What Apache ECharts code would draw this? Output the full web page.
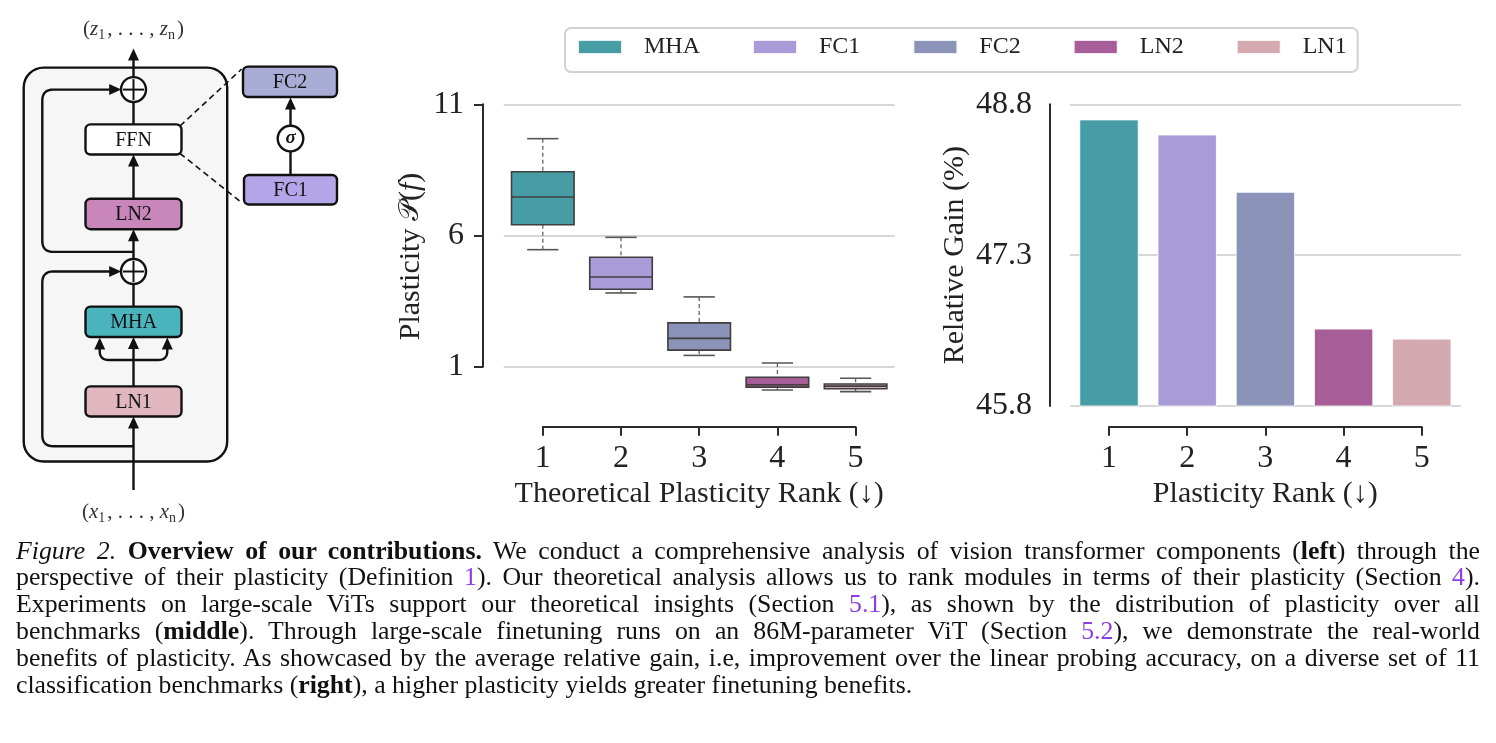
<!DOCTYPE html>
<html><head><meta charset="utf-8">
<script src="https://cdn.jsdelivr.net/npm/echarts@6/dist/echarts.min.js"></script>
<style>
html,body{margin:0;padding:0;background:#fff;}
#wrap{position:relative;width:1496px;height:743px;overflow:hidden;background:#fff;}
#chart{position:absolute;left:0;top:0;width:1496px;height:743px;}
#cap{position:absolute;left:16px;top:537.6px;width:1464px;font-family:'Liberation Serif','Times New Roman',serif;font-size:25.8px;line-height:26.8px;color:#111;}
#cap .ln{white-space:nowrap;}
#cap .lk{color:#8b3de6;}
</style></head><body>
<div id="wrap">
<div id="chart"></div>
<div id="cap">
<div class="ln"><span><i>Figure 2.</i> <b>Overview of our contributions.</b> We conduct a comprehensive analysis of vision transformer components (<b>left</b>) through the</span></div>
<div class="ln"><span>perspective of their plasticity (Definition <span class="lk">1</span>). Our theoretical analysis allows us to rank modules in terms of their plasticity (Section <span class="lk">4</span>).</span></div>
<div class="ln"><span>Experiments on large-scale ViTs support our theoretical insights (Section <span class="lk">5.1</span>), as shown by the distribution of plasticity over all</span></div>
<div class="ln"><span>benchmarks (<b>middle</b>). Through large-scale finetuning runs on an 86M-parameter ViT (Section <span class="lk">5.2</span>), we demonstrate the real-world</span></div>
<div class="ln"><span>benefits of plasticity. As showcased by the average relative gain, i.e, improvement over the linear probing accuracy, on a diverse set of 11</span></div>
<div class="ln last"><span>classification benchmarks (<b>right</b>), a higher plasticity yields greater finetuning benefits.</span></div>
</div>
</div>
<script>
// ---------------- data ----------------
const modules = ['MHA', 'FC1', 'FC2', 'LN2', 'LN1'];
const rankTicks = [1, 2, 3, 4, 5];
// plasticity distribution per module (box plot, theoretical rank order)
const plastLowWhisker  = [5.46, 3.81, 1.43, 0.11, 0.05];
const plastQ1          = [6.41, 3.95, 1.63, 0.22, 0.16];
const plastMedian      = [7.47, 4.42, 2.08, 0.31, 0.26];
const plastQ3          = [8.43, 5.17, 2.67, 0.60, 0.34];
const plastHighWhisker = [9.69, 5.93, 3.66, 1.14, 0.56];
const plastTicks = [1, 6, 11];
// average relative gain (%) per module
const relGain = [48.65, 48.50, 47.93, 46.57, 46.47];
const gainTicks = [45.8, 47.3, 48.8];

// ---------------- styles ----------------
const colors = ['#479da6', '#a89bd7', '#8c93b9', '#a65d98', '#d4a9b0'];
const SERIF = "'Liberation Serif','Times New Roman',serif";
const INK = '#222';
const SPINE = {show: true, onZero: false, lineStyle: {color: '#2b2b2b', width: 2}};
const TICK = {length: 9, lineStyle: {color: '#2b2b2b', width: 2}};
const GRIDLINE = {show: true, lineStyle: {color: '#d7d7d7', width: 2}};

// ---------------- diagram (left schematic) ----------------
const K = '#111', LW = 2.4;
const G = [];
function L(x1, y1, x2, y2, st, z) { G.push({type: 'line', silent: true, z: z || 10, shape: {x1, y1, x2, y2}, style: Object.assign({stroke: K, lineWidth: LW}, st || {})}); }
function up(x, y) { G.push({type: 'polygon', silent: true, z: 11, shape: {points: [[x, y], [x - 5.5, y + 12], [x + 5.5, y + 12]]}, style: {fill: K}}); }
function rightHead(x, y) { G.push({type: 'polygon', silent: true, z: 11, shape: {points: [[x, y], [x - 12, y - 5.5], [x - 12, y + 5.5]]}, style: {fill: K}}); }
function box(x, y, w, h, fill, label) {
  G.push({type: 'rect', silent: true, z: 12, shape: {x, y, width: w, height: h, r: 5}, style: {fill, stroke: K, lineWidth: LW}});
  G.push({type: 'text', silent: true, z: 13, x: x + w / 2, y: y + h / 2 + 1, style: {text: label, fontFamily: SERIF, fontSize: 20, fill: K, align: 'center', verticalAlign: 'middle'}});
}
function plus(cx, cy, r) {
  G.push({type: 'circle', silent: true, z: 12, shape: {cx, cy, r}, style: {fill: '#fff', stroke: K, lineWidth: LW}});
  L(cx - r + 2, cy, cx + r - 2, cy, {lineWidth: 2}, 13);
  L(cx, cy - r + 2, cx, cy + r - 2, {lineWidth: 2}, 13);
}
function rpath(pts, r) {
  const out = [pts[0]];
  for (let i = 1; i < pts.length - 1; i++) {
    const [px, py] = pts[i - 1], [cx, cy] = pts[i], [nx, ny] = pts[i + 1];
    const a = [cx + Math.sign(px - cx) * r, cy + Math.sign(py - cy) * r];
    const b = [cx + Math.sign(nx - cx) * r, cy + Math.sign(ny - cy) * r];
    for (let t = 0; t <= 1.0001; t += 0.125) {
      const u = 1 - t;
      out.push([u * u * a[0] + 2 * u * t * cx + t * t * b[0], u * u * a[1] + 2 * u * t * cy + t * t * b[1]]);
    }
  }
  out.push(pts[pts.length - 1]);
  G.push({type: 'polyline', silent: true, z: 10, shape: {points: out}, style: {stroke: K, lineWidth: LW, fill: 'none'}});
}
const MX = 133.5;
G.push({type: 'rect', silent: true, z: 1, shape: {x: 23.7, y: 67.6, width: 203.5, height: 393.9, r: 20}, style: {fill: '#f6f6f6', stroke: K, lineWidth: LW}});
// main stream
L(MX, 490, MX, 425); up(MX, 416.5);
L(MX, 386.4, MX, 346); up(MX, 337);
rpath([[MX, 360], [99.7, 360], [99.7, 347]], 9); up(99.7, 337.5);
rpath([[MX, 360], [167.3, 360], [167.3, 347]], 9); up(167.3, 337.5);
L(MX, 306.6, MX, 284);
L(MX, 259, MX, 238); up(MX, 229.2);
L(MX, 198.8, MX, 163); up(MX, 154.5);
L(MX, 124.4, MX, 102);
L(MX, 77, MX, 58); up(MX, 48.5);
// residual connections
rpath([[MX, 446.2], [42.3, 446.2], [42.3, 271.5], [112, 271.5]], 11); rightHead(121.2, 271.5);
rpath([[MX, 251.9], [42.3, 251.9], [42.3, 89.6], [112, 89.6]], 11); rightHead(121.2, 89.6);
// blocks
box(85.5, 386.4, 96, 30.1, '#e0b7bf', 'LN1');
box(85.5, 306.6, 96, 30.4, '#4ab4bd', 'MHA');
box(85.5, 198.8, 96, 30.4, '#c886bb', 'LN2');
box(85.5, 124.4, 96, 30.1, '#ffffff', 'FFN');
plus(MX, 271.5, 12.5);
plus(MX, 89.6, 12.5);
// FFN zoom
L(180, 126, 241.7, 69, {lineDash: [6, 4], lineWidth: 1.6});
L(180, 153.5, 241, 202, {lineDash: [6, 4], lineWidth: 1.6});
const FX = 290.5;
L(FX, 175, FX, 150);
L(FX, 126, FX, 106); up(FX, 97.5);
box(243, 66.6, 94, 30.4, '#a9add6', 'FC2');
box(244, 175, 93, 29.5, '#b4a5e8', 'FC1');
G.push({type: 'circle', silent: true, z: 12, shape: {cx: FX, cy: 138.6, r: 12.8}, style: {fill: '#fff', stroke: K, lineWidth: LW}});
G.push({type: 'text', silent: true, z: 13, x: FX, y: 138, style: {text: 'σ', fontFamily: SERIF, fontStyle: 'italic', fontWeight: 'bold', fontSize: 19, fill: K, align: 'center', verticalAlign: 'middle'}});
function seqText(v, y) {
  G.push({type: 'text', silent: true, z: 13, x: MX, y: y, style: {
    text: '{p|(}{v|' + v + '}{s|1}{p|, . . . , }{v|' + v + '}{s|n}{p|)}',
    align: 'center', verticalAlign: 'middle',
    rich: {
      p: {fontFamily: SERIF, fontSize: 21, fill: '#333', lineHeight: 26, verticalAlign: 'middle'},
      v: {fontFamily: SERIF, fontSize: 21, fontStyle: 'italic', fill: '#333', lineHeight: 26, verticalAlign: 'middle'},
      s: {fontFamily: SERIF, fontSize: 14, fill: '#333', lineHeight: 26, verticalAlign: 'bottom', padding: [0, 2, 0, 0]}
    }}});
}
seqText('z', 29);
seqText('x', 512);

// ---------------- charts ----------------
const boxData = modules.map((m, i) => [i, plastLowWhisker[i], plastQ1[i], plastMedian[i], plastQ3[i], plastHighWhisker[i]]);

function renderBox(params, api) {
  const i = api.value(0);
  const lo = api.coord([i, api.value(1)]);
  const q1 = api.coord([i, api.value(2)]);
  const md = api.coord([i, api.value(3)]);
  const q3 = api.coord([i, api.value(4)]);
  const hi = api.coord([i, api.value(5)]);
  const band = api.size([1, 0])[0];
  const bw = band * 0.8, cw = bw * 0.5, cx = md[0];
  const edge = '#3f3f3f';
  const wst = {stroke: '#666', lineWidth: 1.3, lineDash: [4, 3]};
  const cst = {stroke: '#555', lineWidth: 1.6};
  return {type: 'group', children: [
    {type: 'line', shape: {x1: cx, y1: hi[1], x2: cx, y2: q3[1]}, style: wst},
    {type: 'line', shape: {x1: cx, y1: q1[1], x2: cx, y2: lo[1]}, style: wst},
    {type: 'line', shape: {x1: cx - cw / 2, y1: hi[1], x2: cx + cw / 2, y2: hi[1]}, style: cst},
    {type: 'line', shape: {x1: cx - cw / 2, y1: lo[1], x2: cx + cw / 2, y2: lo[1]}, style: cst},
    {type: 'rect', shape: {x: cx - bw / 2, y: q3[1], width: bw, height: q1[1] - q3[1]}, style: {fill: colors[i], stroke: edge, lineWidth: 1.6}},
    {type: 'line', shape: {x1: cx - bw / 2, y1: md[1], x2: cx + bw / 2, y2: md[1]}, style: {stroke: edge, lineWidth: 1.6}}
  ]};
}

const PX = 26.24; // px per plasticity unit (layout)
const hiddenVal = {type: 'value', show: false, min: 0, max: 1};
const rankAxis = (gi) => ({
  type: 'value', gridIndex: gi, position: 'bottom',
  min: rankTicks[0], max: rankTicks[rankTicks.length - 1], interval: 1,
  axisLine: SPINE, axisTick: TICK, splitLine: {show: false},
  axisLabel: {fontFamily: SERIF, fontSize: 32, color: INK, margin: 16},
  nameLocation: 'middle', nameGap: 52,
  nameTextStyle: {fontFamily: SERIF, fontSize: 30, color: INK}
});

const option = {
  animation: false,
  backgroundColor: '#fff',
  textStyle: {fontFamily: SERIF},
  legend: {
    data: modules, left: 565, top: 28, icon: 'rect', itemWidth: 44, itemHeight: 14, itemGap: 52,
    padding: [7, 11, 13, 12], borderColor: '#d2d2d2', borderWidth: 2, borderRadius: 6,
    textStyle: {fontFamily: SERIF, fontSize: 24, color: INK, padding: [0, 0, 0, 17]}
  },
  grid: [
    {left: 503.7, top: 104.3, width: 391, height: 11.6 * PX},   // middle data
    {left: 503.7, top: 104.3, width: 391, height: 10 * PX},     // middle y spine
    {left: 542.8, top: 416.7, width: 312.7, height: 10},        // middle x spine
    {left: 1069.9, top: 104.3, width: 391, height: 301.7},      // right data
    {left: 1109, top: 416.7, width: 312.7, height: 10}          // right x spine
  ],
  xAxis: [
    {type: 'category', gridIndex: 0, data: modules, show: false},
    Object.assign({}, hiddenVal, {gridIndex: 1}),
    Object.assign(rankAxis(2), {name: 'Theoretical Plasticity Rank (↓)'}),
    {type: 'category', gridIndex: 3, data: modules, show: false},
    Object.assign(rankAxis(4), {name: 'Plasticity Rank (↓)'})
  ],
  yAxis: [
    {type: 'value', gridIndex: 0, min: -0.6, max: plastTicks[plastTicks.length - 1], offset: 20.7,
     axisLine: {show: false, onZero: false}, axisTick: {show: false}, axisLabel: {show: false}, splitLine: {show: false},
     name: '{a|Plasticity }{b|𝒫}{a|(}{c|f}{a|)}', nameLocation: 'middle', nameGap: 57,
     nameTextStyle: {fontFamily: SERIF, fontSize: 30, color: INK,
       rich: {a: {fontFamily: SERIF, fontSize: 30, color: INK},
              b: {fontFamily: "'DejaVu Serif','DejaVu Sans',serif", fontSize: 28, color: INK},
              c: {fontFamily: SERIF, fontSize: 30, fontStyle: 'italic', color: INK}}}},
    {type: 'value', gridIndex: 1, min: plastTicks[0], max: plastTicks[plastTicks.length - 1],
     interval: plastTicks[1] - plastTicks[0], offset: 20.7,
     axisLine: SPINE, axisTick: TICK, splitLine: GRIDLINE,
     axisLabel: {fontFamily: SERIF, fontSize: 32, color: INK, margin: 19, formatter: v => String(Math.round(v))}},
    Object.assign({}, hiddenVal, {gridIndex: 2}),
    {type: 'value', gridIndex: 3, min: gainTicks[0], max: gainTicks[gainTicks.length - 1],
     interval: +(gainTicks[1] - gainTicks[0]).toFixed(2), offset: 19.9,
     axisLine: SPINE, axisTick: TICK, splitLine: GRIDLINE,
     axisLabel: {fontFamily: SERIF, fontSize: 32, color: INK, margin: 18, formatter: v => v.toFixed(1)},
     name: 'Relative Gain (%)', nameLocation: 'middle', nameGap: 80,
     nameTextStyle: {fontFamily: SERIF, fontSize: 30, color: INK}},
    Object.assign({}, hiddenVal, {gridIndex: 4})
  ],
  series: [
    {type: 'custom', name: 'Plasticity', xAxisIndex: 0, yAxisIndex: 0, data: boxData,
     encode: {x: 0, y: [1, 2, 3, 4, 5]}, renderItem: renderBox, z: 3}
  ].concat(modules.map((m, i) => ({
    type: 'bar', name: m, xAxisIndex: 3, yAxisIndex: 3, barWidth: '76%', barGap: '-100%',
    itemStyle: {color: colors[i], borderColor: 'rgba(255,255,255,0.85)', borderWidth: 1},
    data: modules.map((_, j) => j === i ? relGain[i] : '-')
  }))),
  graphic: {elements: G}
};

const chart = echarts.init(document.getElementById('chart'), null, {renderer: 'canvas'});
chart.setOption(option);

// justify caption lines
document.querySelectorAll('#cap .ln').forEach(d => {
  if (d.classList.contains('last')) return;
  const span = d.firstElementChild;
  const w = span.getBoundingClientRect().width;
  const spaces = (d.textContent.trim().match(/ /g) || []).length;
  if (spaces > 0) d.style.wordSpacing = ((1464 - w) / spaces) + 'px';
});
</script>
</body></html>
